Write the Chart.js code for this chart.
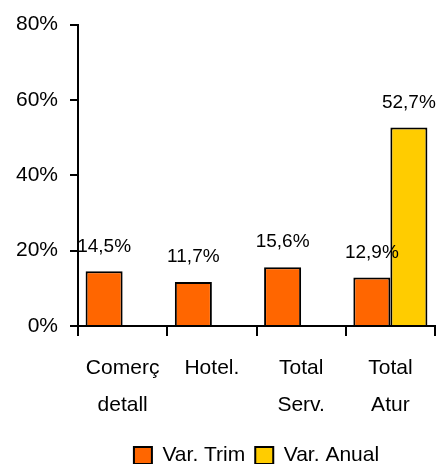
<!DOCTYPE html>
<html>
<head>
<meta charset="utf-8">
<script src="https://cdn.jsdelivr.net/npm/chart.js@4.4.1/dist/chart.umd.min.js"></script>
<style>
  html, body { margin: 0; padding: 0; background: #fff; }
  #wrap { width: 444px; height: 464px; }
</style>
</head>
<body>
<div id="wrap"><canvas id="chart" width="444" height="464"></canvas></div>
<script>
// categories and series (values in %)
const categories = [['Comerç', 'detall'], 'Hotel.', ['Total', 'Serv.'], ['Total', 'Atur']];
const seriesNames = ['Var. Trim', 'Var. Anual'];
const varTrim = [14.5, 11.7, 15.6, 12.9];
const varAnual = [null, null, null, 52.7];
const yTicks = [0, 20, 40, 60, 80];

const FONT = '"Liberation Sans", Arial, sans-serif';

// labels above bars, "14,5%"
const barLabels = {
    id: 'barLabels',
    afterDatasetsDraw(chart) {
        let ctx = chart.ctx;
        ctx.save();
        ctx.font = '19px ' + FONT;
        ctx.fillStyle = '#000';
        ctx.textAlign = 'center';
        ctx.textBaseline = 'middle';
        chart.data.datasets.forEach(function(ds, di) {
            let meta = chart.getDatasetMeta(di);
            meta.data.forEach(function(bar, i) {
                let v = ds.data[i];
                if (v === null || v === undefined) return;
                let txt = v.toFixed(1).replace('.', ',') + '%';
                ctx.fillText(txt, bar.x, bar.y - 25);
            });
        });
        ctx.restore();
    }
};

// legend centred under the plot area, not the whole canvas
const legendUnderPlot = {
    id: 'legendUnderPlot',
    beforeDraw(chart) {
        chart.legend.left = chart.chartArea.left;
        chart.legend.right = chart.chartArea.right;
    }
};

let ctx = document.getElementById('chart').getContext('2d');
let chart = new Chart(ctx, {
    type: 'bar',
    data: {
        labels: categories,
        datasets: [{
            label: seriesNames[0],
            data: varTrim,
            backgroundColor: '#FF6600',
            borderColor: '#000',
            borderWidth: 2
        }, {
            label: seriesNames[1],
            data: varAnual,
            backgroundColor: '#FFCC00',
            borderColor: '#000',
            borderWidth: 2
        }]
    },
    options: {
        responsive: false,
        animation: false,
        layout: { padding: { top: 24, right: 9, left: 0, bottom: -12 } },
        datasets: {
            bar: { categoryPercentage: 0.83, barPercentage: 1.0 }
        },
        scales: {
            x: {
                grid: {
                    offset: true,
                    drawOnChartArea: false,
                    drawTicks: true,
                    tickLength: 10,
                    color: '#000',
                    lineWidth: 2
                },
                border: { color: '#000', width: 2 },
                ticks: {
                    color: '#000',
                    font: { family: FONT, size: 21, lineHeight: 1.76 },
                    padding: 14,
                    maxRotation: 0,
                    autoSkip: false
                },
                afterFit: function(scale) { scale.height = 109; }
            },
            y: {
                min: 0,
                max: 80,
                afterBuildTicks: function(scale) {
                    scale.ticks = yTicks.map(v => ({ value: v }));
                },
                grid: {
                    drawOnChartArea: false,
                    drawTicks: true,
                    tickLength: 8,
                    color: '#000',
                    lineWidth: 2
                },
                border: { color: '#000', width: 2 },
                ticks: {
                    color: '#000',
                    font: { family: FONT, size: 21 },
                    padding: 12,
                    callback: function(value) { return value + '%'; }
                },
                afterFit: function(scale) { scale.width = 78; }
            }
        },
        plugins: {
            legend: {
                position: 'bottom',
                labels: {
                    color: '#000',
                    font: { family: FONT, size: 21 },
                    boxWidth: 18,
                    boxHeight: 17,
                    padding: 10,
                    useBorderRadius: false
                }
            },
            tooltip: { enabled: false }
        }
    },
    plugins: [barLabels, legendUnderPlot]
});
</script>
</body>
</html>
